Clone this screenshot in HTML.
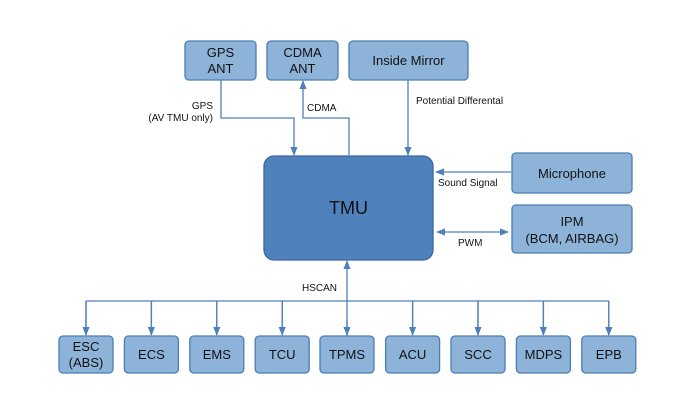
<!DOCTYPE html>
<html><head><meta charset="utf-8"><style>
body{margin:0;background:#fff;}
svg{display:block;font-family:"Liberation Sans",Arial,sans-serif;}
.b{fill:#8db3d9;stroke:#4a7db5;stroke-width:1.3;}
.t{font-size:13px;fill:#111;text-anchor:middle;}
.l{font-size:10px;fill:#111;}
.ln{stroke:#4f80ba;stroke-width:1.3;fill:none;}
</style></head><body>
<svg width="700" height="414" viewBox="0 0 700 414">
<defs><marker id="a" viewBox="0 0 10 10" refX="9" refY="5" markerWidth="7" markerHeight="7" orient="auto-start-reverse"><path d="M0,1 L10,5 L0,9 z" fill="#4f80ba"/></marker></defs>
<rect class="b" x="185" y="41" width="71" height="39" rx="4"/>
<text class="t" x="220.5" y="57">GPS</text><text class="t" x="220.5" y="73">ANT</text>
<rect class="b" x="267" y="41" width="71" height="39" rx="4"/>
<text class="t" x="302.5" y="57">CDMA</text><text class="t" x="302.5" y="73">ANT</text>
<rect class="b" x="349" y="41" width="119" height="39" rx="4"/>
<text class="t" x="408.5" y="65">Inside Mirror</text>
<rect x="264" y="156" width="169" height="104" rx="10" fill="#4f81bd" stroke="#3b679c" stroke-width="1.3"/>
<text class="t" x="348.5" y="214" style="font-size:18px">TMU</text>
<rect class="b" x="512" y="153" width="120" height="40" rx="4"/>
<text class="t" x="572" y="178">Microphone</text>
<rect class="b" x="512" y="205" width="120" height="48" rx="4"/>
<text class="t" x="572" y="226">IPM</text><text class="t" x="572" y="243">(BCM, AIRBAG)</text>
<path class="ln" d="M221,80 V118 H294 V155" marker-end="url(#a)"/>
<path class="ln" d="M349,155 V118 H303 V81" marker-end="url(#a)"/>
<path class="ln" d="M408,80 V155" marker-end="url(#a)"/>
<path class="ln" d="M511,172 H436" marker-end="url(#a)"/>
<path class="ln" d="M437,232 H508" marker-start="url(#a)" marker-end="url(#a)"/>
<text class="l" x="213" y="109" text-anchor="end">GPS</text>
<text class="l" x="213" y="121" text-anchor="end">(AV TMU only)</text>
<text class="l" x="307" y="111">CDMA</text>
<text class="l" x="416" y="104">Potential Differental</text>
<text class="l" x="438" y="186">Sound Signal</text>
<text class="l" x="458" y="246">PWM</text>
<text class="l" x="302" y="291">HSCAN</text>
<path class="ln" d="M347,336 V261" marker-end="url(#a)"/>
<path class="ln" d="M86,301 H609"/>
<g id="bx"></g>
<path class="ln" d="M86,301 V335 M151.4,301 V335 M216.8,301 V335 M282.2,301 V335 M412.6,301 V335 M478,301 V335 M543.4,301 V335 M608.8,301 V335" marker-end="url(#a)"/>
<path class="ln" d="M86,301 V335" marker-end="url(#a)"/>
<path class="ln" d="M151.4,301 V335" marker-end="url(#a)"/>
<path class="ln" d="M216.8,301 V335" marker-end="url(#a)"/>
<path class="ln" d="M282.2,301 V335" marker-end="url(#a)"/>
<path class="ln" d="M347,320 V335" marker-end="url(#a)"/>
<path class="ln" d="M412.6,301 V335" marker-end="url(#a)"/>
<path class="ln" d="M478,301 V335" marker-end="url(#a)"/>
<path class="ln" d="M543.4,301 V335" marker-end="url(#a)"/>
<path class="ln" d="M608.8,301 V335" marker-end="url(#a)"/>
<rect class="b" x="59" y="336" width="54" height="37" rx="4"/>
<text class="t" x="86" y="351">ESC</text><text class="t" x="86" y="367">(ABS)</text>
<rect class="b" x="124.4" y="336" width="54" height="37" rx="4"/><text class="t" x="151.4" y="359">ECS</text>
<rect class="b" x="189.8" y="336" width="54" height="37" rx="4"/><text class="t" x="216.8" y="359">EMS</text>
<rect class="b" x="255.2" y="336" width="54" height="37" rx="4"/><text class="t" x="282.2" y="359">TCU</text>
<rect class="b" x="320" y="336" width="54" height="37" rx="4"/><text class="t" x="347" y="359">TPMS</text>
<rect class="b" x="385.6" y="336" width="54" height="37" rx="4"/><text class="t" x="412.6" y="359">ACU</text>
<rect class="b" x="451" y="336" width="54" height="37" rx="4"/><text class="t" x="478" y="359">SCC</text>
<rect class="b" x="516.4" y="336" width="54" height="37" rx="4"/><text class="t" x="543.4" y="359">MDPS</text>
<rect class="b" x="581.8" y="336" width="54" height="37" rx="4"/><text class="t" x="608.8" y="359">EPB</text>
</svg>
</body></html>
